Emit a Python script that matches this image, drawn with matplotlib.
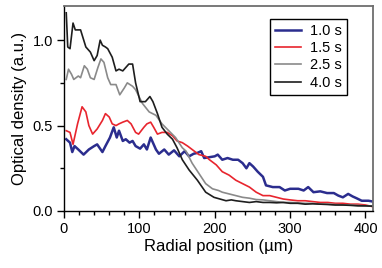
import matplotlib
matplotlib.use("Agg")
import matplotlib.pyplot as plt
from matplotlib.ticker import MultipleLocator

plt.rcParams['font.family'] = ['Liberation Sans', 'DejaVu Sans']

# 4.0 s
x_40 = [3, 5, 8, 12, 15, 22, 29, 35, 40, 44, 48, 51, 55, 58, 64, 69, 73, 78, 82, 86,
        91, 95, 101, 108, 114, 118, 124, 130, 137, 144, 150, 157, 166, 177, 188, 199, 207, 215, 222, 228,
        237, 246, 255, 264, 273, 282, 291, 300, 310, 320, 330, 340, 350, 360, 370, 380, 390, 400, 410]
y_40 = [1.16, 0.96, 0.95, 1.10, 1.06, 1.06, 0.96, 0.93, 0.88, 0.91, 1.0, 0.97, 0.96, 0.95, 0.90, 0.82, 0.83, 0.82, 0.84, 0.86,
        0.86, 0.75, 0.64, 0.64, 0.67, 0.64, 0.57, 0.49, 0.45, 0.42, 0.37, 0.30, 0.24, 0.18, 0.11, 0.08, 0.07, 0.06, 0.065, 0.06,
        0.055, 0.05, 0.055, 0.05, 0.05, 0.048, 0.05, 0.045, 0.045, 0.04, 0.042, 0.04, 0.038, 0.035, 0.035, 0.033, 0.03, 0.03, 0.028]

# 2.5 s
x_25 = [3, 6, 10, 13, 19, 22, 27, 31, 35, 40, 45, 49, 53, 58, 62, 69, 74, 80, 84, 91,
        95, 104, 113, 122, 130, 139, 148, 157, 162, 170, 179, 188, 197, 205, 210, 219, 228, 237, 246, 255,
        264, 273, 282, 291, 300, 310, 320, 330, 340, 350, 360, 370, 380, 390, 400, 410]
y_25 = [0.77, 0.83, 0.80, 0.77, 0.79, 0.78, 0.85, 0.83, 0.78, 0.77, 0.84, 0.89, 0.87, 0.78, 0.74, 0.74, 0.68, 0.72, 0.75, 0.73,
        0.71, 0.63, 0.58, 0.56, 0.51, 0.47, 0.43, 0.37, 0.35, 0.28, 0.22, 0.16, 0.13, 0.12, 0.11, 0.10, 0.09, 0.08, 0.075, 0.067,
        0.065, 0.06, 0.055, 0.05, 0.05, 0.048, 0.045, 0.045, 0.04, 0.04, 0.038, 0.036, 0.035, 0.033, 0.03, 0.03]

# 1.5 s
x_15 = [3, 8, 12, 18, 24, 29, 33, 38, 44, 51, 55, 60, 64, 69, 73, 78, 84, 89, 95, 99,
        106, 110, 115, 119, 124, 130, 137, 144, 150, 157, 164, 170, 179, 188, 193, 202, 210, 219, 228, 237,
        246, 255, 264, 273, 282, 291, 300, 310, 320, 330, 340, 350, 360, 370, 380, 390, 400, 410]
y_15 = [0.47, 0.46, 0.39, 0.51, 0.61, 0.58, 0.50, 0.45, 0.48, 0.53, 0.57, 0.55, 0.51, 0.50, 0.51, 0.52, 0.53, 0.51, 0.46, 0.45,
        0.49, 0.51, 0.52, 0.49, 0.45, 0.46, 0.46, 0.44, 0.41, 0.40, 0.38, 0.36, 0.33, 0.32, 0.30, 0.27, 0.23, 0.21, 0.18, 0.16,
        0.14, 0.11, 0.09, 0.09, 0.08, 0.07, 0.065, 0.06, 0.06, 0.055, 0.05, 0.05, 0.045, 0.045, 0.04, 0.04, 0.035, 0.025]

# 1.0 s
x_10 = [3, 8, 11, 14, 19, 26, 33, 40, 44, 51, 55, 61, 66, 70, 73, 78, 82, 87, 91, 95,
        101, 106, 110, 115, 119, 122, 126, 133, 139, 146, 153, 160, 166, 172, 177, 182, 186, 193, 200, 204,
        210, 217, 224, 231, 237, 242, 246, 251, 257, 264, 268, 277, 286, 293, 300, 311, 318, 324, 331, 340,
        349, 358, 364, 370, 377, 383, 388, 395, 399, 404, 410]
y_10 = [0.42, 0.40, 0.345, 0.38, 0.36, 0.33, 0.36, 0.38, 0.39, 0.345, 0.38, 0.43, 0.49, 0.43, 0.47, 0.41, 0.42, 0.40, 0.41, 0.38,
        0.365, 0.39, 0.36, 0.43, 0.39, 0.36, 0.335, 0.36, 0.33, 0.355, 0.32, 0.35, 0.32, 0.335, 0.34, 0.35, 0.31, 0.315, 0.32, 0.33,
        0.30, 0.31, 0.30, 0.30, 0.28, 0.25, 0.28, 0.26, 0.23, 0.20, 0.15, 0.14, 0.14, 0.12, 0.13, 0.13, 0.12, 0.14, 0.11, 0.115,
        0.105, 0.105, 0.09, 0.08, 0.10, 0.085, 0.075, 0.06, 0.06, 0.06, 0.055]

fig = plt.figure(figsize=(3.82, 2.68), dpi=100)
ax = fig.add_axes([0.1675, 0.2127, 0.809, 0.765])

ax.plot(x_10, y_10, color='#2b2d8e', lw=1.8, label='1.0 s')
ax.plot(x_15, y_15, color='#e8252e', lw=1.2, label='1.5 s')
ax.plot(x_25, y_25, color='#8a8a8a', lw=1.2, label='2.5 s')
ax.plot(x_40, y_40, color='#1e1e1e', lw=1.2, label='4.0 s')

ax.set_xlim(0, 410)
ax.set_ylim(0, 1.2)
ax.xaxis.set_major_locator(MultipleLocator(100))
ax.xaxis.set_minor_locator(MultipleLocator(20))
ax.yaxis.set_major_locator(MultipleLocator(0.5))
ax.yaxis.set_minor_locator(MultipleLocator(0.25))
ax.yaxis.set_major_formatter(plt.FormatStrFormatter('%.1f'))
ax.tick_params(which='major', direction='out', length=5, width=1, labelsize=10.5, pad=3)
ax.tick_params(which='minor', direction='out', length=3, width=1)

for s in ['top', 'right']:
    ax.spines[s].set_color('#6e6e6e')
    ax.spines[s].set_linewidth(1.3)
for s in ['left', 'bottom']:
    ax.spines[s].set_linewidth(1.0)

ax.set_xlabel('Radial position (µm)', fontsize=12, labelpad=2)
ax.set_ylabel('Optical density (a.u.)', fontsize=12, labelpad=4)

leg = ax.legend(loc='upper right', bbox_to_anchor=(0.916, 0.937), borderaxespad=0,
                fontsize=10.5, handlelength=1.8, handletextpad=0.6, labelspacing=0.22,
                borderpad=0.35, fancybox=False, framealpha=1)
leg.get_frame().set_edgecolor('black')
leg.get_frame().set_linewidth(1.0)

fig.savefig('out.png', dpi=100)
